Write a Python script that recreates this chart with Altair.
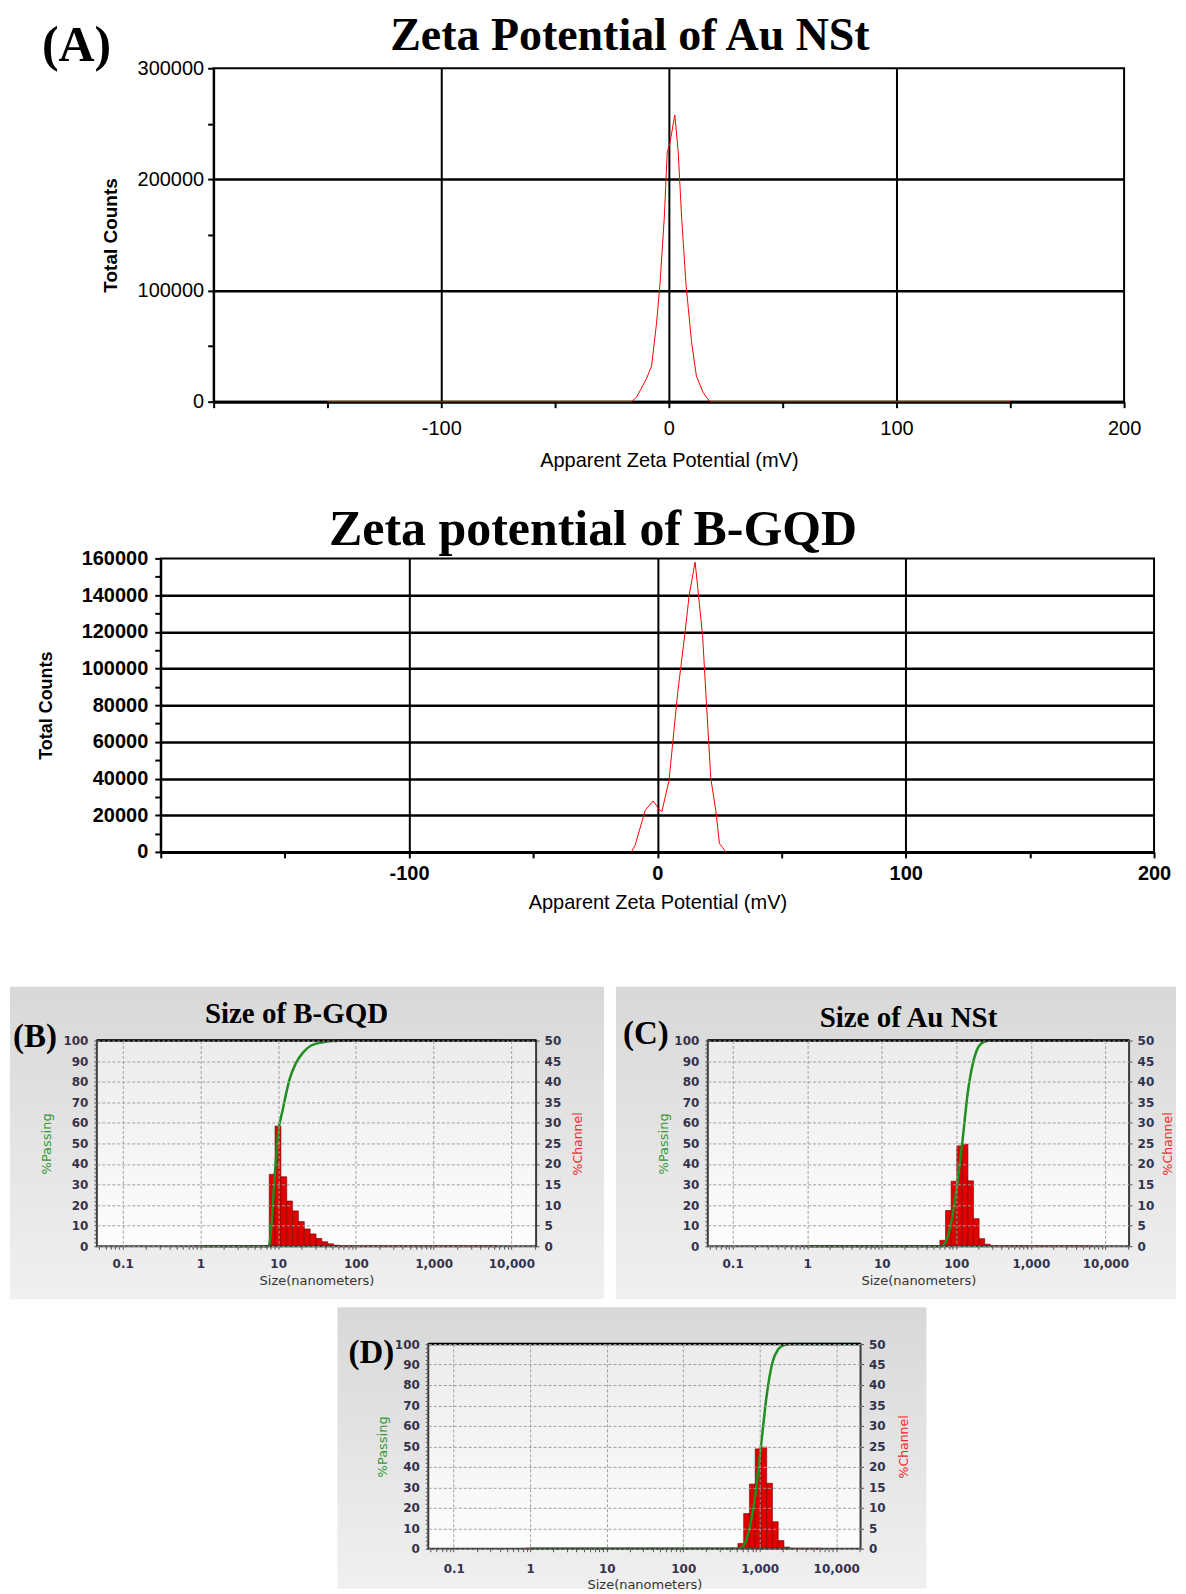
import altair as alt
import pandas as pd

# ---------------- data ----------------
# (A) Zeta potential of Au NSt
au_mv = [-150, -16.4, -14.2, -10.0, -7.6, -5.4, -3.9, -2.0, -0.7, 0.4, 2.6, 4.1, 5.6, 7.5, 10.0, 12.1, 15.1, 18.0, 150]
au_counts = [0, 0, 4000, 20000, 32000, 71000, 106000, 166000, 225000, 232000, 258000, 225000, 166000, 106000, 53000, 23000, 8000, 0, 0]

# Zeta potential of B-GQD
bg_mv = [-10.5, -9.0, -4.9, -1.7, 0.5, 1.8, 4.7, 8.1, 11.2, 12.8, 15.2, 18.2, 19.8, 21.5, 23.5, 25.0, 26.2, 27.5]
bg_counts = [0, 3500, 22700, 27800, 23500, 22000, 39000, 85900, 120300, 140000, 158000, 118000, 80000, 40200, 22700, 4600, 2500, 0]

zeta_ticks = [-200, -150, -100, -50, 0, 50, 100, 150, 200]

# (B) Size of B-GQD
b_lo = [7.67, 9.12, 10.85, 12.9, 15.3, 18.2, 21.7, 25.8, 30.7, 36.5, 43.4, 51.6]
b_hi = [9.12, 10.85, 12.9, 15.3, 18.2, 21.7, 25.8, 30.7, 36.5, 43.4, 51.6, 61.4]
b_channel = [17.5, 29.2, 16.9, 11.0, 8.6, 6.0, 4.2, 3.0, 1.9, 1.1, 0.6, 0.25]
b_pass_size = [1, 7.5, 7.8, 8.24, 9.09, 10.0, 11.4, 14.1, 16.8, 21.1, 26.6, 37.6, 53.2, 67.0, 6730]
b_pass_pct = [0, 0, 2, 11.6, 35.8, 55, 66, 81.5, 88.8, 94.4, 97.6, 99.2, 99.8, 100, 100]
b_zero_size = [0.84, 6730]
b_zero_ch = [0, 0]

# (C) Size of Au NSt
c_lo = [60.3, 71.7, 85.3, 101.4, 120.6, 143.4, 170.5, 202.8, 241.0]
c_hi = [71.7, 85.3, 101.4, 120.6, 143.4, 170.5, 202.8, 241.0, 287.0]
c_channel = [1.45, 8.7, 15.8, 24.4, 24.8, 15.9, 6.7, 1.85, 0.5]
c_pass_size = [1, 62, 72, 85, 101, 121, 143, 170, 203, 241, 290, 6500]
c_pass_pct = [0, 0, 2, 11, 28, 51, 75, 90, 97.5, 99.5, 100, 100]
c_zero_size = [0.9, 6500]
c_zero_ch = [0, 0]

# (D)
d_lo = [519, 617, 734, 873, 1038, 1234, 1467, 1745, 2075]
d_hi = [617, 734, 873, 1038, 1234, 1467, 1745, 2075, 2467]
d_channel = [1.3, 8.6, 15.8, 24.4, 24.8, 16.0, 6.6, 2.0, 0.4]
d_pass_size = [1, 530, 617, 734, 873, 1038, 1234, 1467, 1745, 2075, 2467, 20800]
d_pass_pct = [0, 0, 1.5, 10, 26, 50, 75, 91, 97.5, 99.5, 100, 100]
d_zero_size = [0.85, 6400]
d_zero_ch = [0, 0]

size_decades = [0.1, 1, 10, 100, 1000, 10000]
size_ticks = [0.05, 0.06, 0.07, 0.08, 0.09,
              0.1, 0.2, 0.3, 0.4, 0.5, 0.6, 0.7, 0.8, 0.9,
              1, 2, 3, 4, 5, 6, 7, 8, 9,
              10, 20, 30, 40, 50, 60, 70, 80, 90,
              100, 200, 300, 400, 500, 600, 700, 800, 900,
              1000, 2000, 3000, 4000, 5000, 6000, 7000, 8000, 9000,
              10000, 20000]
pass_ticks = list(range(0, 101, 2))
channel_ticks = list(range(0, 51, 5))

# ---------------- styling helpers ----------------
SANS = "Liberation Sans"
SERIF = "Liberation Serif"
UI = "DejaVu Sans"
one = pd.DataFrame({"k": [0]})


def rect(x1, x2, y1, y2, fill):
    return alt.Chart(one).mark_rect(fill=fill, strokeWidth=0).encode(
        x=alt.value(x1), x2=alt.value(x2), y=alt.value(y1), y2=alt.value(y2))


def frame(w, h, color, sw):
    return alt.Chart(one).mark_rect(fillOpacity=0, stroke=color, strokeWidth=sw).encode(
        x=alt.value(0), x2=alt.value(w), y=alt.value(0), y2=alt.value(h))


def text(t, x, y, size, font=SERIF, weight="bold", align="left", color="black"):
    return alt.Chart(one).mark_text(
        text=t, font=font, fontSize=size, fontWeight=weight, align=align,
        baseline="alphabetic", color=color).encode(x=alt.value(x), y=alt.value(y))


def grad(c1, c2):
    return {"gradient": "linear", "x1": 0, "x2": 0, "y1": 0, "y2": 1,
            "stops": [{"offset": 0, "color": c1}, {"offset": 1, "color": c2}]}


def spacer(w):
    return rect(0, w, 0, 1, "white").properties(
        width=w, height=1, view=alt.ViewBackground(strokeWidth=0))


def zeta_axes(w, h, label_weight, xlab_pad, xtitle_y, ylab_pad, y_vals, y_lab_step, y_max,
              ytitle_size, ytitle_x):
    x_axis = alt.Axis(
        values=zeta_ticks,
        labelExpr="(datum.value % 100 === 0 && datum.value > -200) ? '' + datum.value : ''",
        labelFont=SANS, labelFontSize=20, labelFontWeight=label_weight, labelColor="black",
        labelBaseline="middle", labelPadding=xlab_pad, labelFlush=False, labelOverlap=False,
        tickSize=6, tickWidth=2, tickColor="black", domainColor="black", domainWidth=3,
        grid=True, gridColor="black", gridWidth=2,
        gridOpacity={"condition": {"test": "datum.value % 100 === 0 && abs(datum.value) < 200", "value": 1}, "value": 0},
        title="Apparent Zeta Potential (mV)", titleFont=SANS, titleFontSize=20,
        titleFontWeight="normal", titleColor="black", titleBaseline="middle", titleY=xtitle_y)
    y_axis = alt.Axis(
        values=y_vals,
        labelExpr=f"datum.value % {y_lab_step} === 0 ? '' + datum.value : ''",
        labelFont=SANS, labelFontSize=20, labelFontWeight=label_weight, labelColor="black",
        labelPadding=ylab_pad, labelOverlap=False, labelFlush=False,
        tickSize=6, tickWidth=2, tickColor="black", domainColor="black", domainWidth=2,
        grid=True, gridColor="black", gridWidth=2.5,
        gridOpacity={"condition": {"test": f"datum.value % {y_lab_step} === 0 && datum.value > 0 && datum.value < {y_max}", "value": 1}, "value": 0},
        title="Total Counts", titleFont=SANS, titleFontSize=ytitle_size, titleFontWeight="bold",
        titleColor="black", titleAngle=270, titleAlign="center", titleBaseline="middle",
        titleX=ytitle_x, titleY=h / 2)
    return x_axis, y_axis


# ---------------- (A) zeta of Au NSt ----------------
wA, hA = 912, 334
xA_axis, yA_axis = zeta_axes(wA, hA, "normal", 21, 59, 4,
                             [0, 50000, 100000, 150000, 200000, 250000, 300000],
                             100000, 300000, 19, -103)
lineA = alt.Chart(pd.DataFrame({"mv": au_mv, "counts": au_counts})).mark_line(
    color="#ff0000", strokeWidth=1).encode(
    x=alt.X("mv:Q", scale=alt.Scale(domain=[-200, 200], nice=False, zero=False), axis=xA_axis),
    y=alt.Y("counts:Q", scale=alt.Scale(domain=[0, 300000], nice=False), axis=yA_axis))
panelA = alt.layer(
    rect(-204, -203, -58, -57, "white"),
    rect(964, 965, 408, 409, "white"),
    lineA,
    text("Zeta Potential of Au NSt", 417, -18, 46, align="center"),
    text("(A)", -172, -7, 50),
).properties(width=wA, height=hA, view=alt.ViewBackground(stroke="black", strokeWidth=2))

# ---------------- zeta of B-GQD ----------------
wZ, hZ = 995, 294
xZ_axis, yZ_axis = zeta_axes(wZ, hZ, "bold", 16, 51, 7,
                             list(range(0, 160001, 10000)), 20000, 160000, 18, -114)
lineZ = alt.Chart(pd.DataFrame({"mv": bg_mv, "counts": bg_counts})).mark_line(
    color="#ff0000", strokeWidth=1).encode(
    x=alt.X("mv:Q", scale=alt.Scale(domain=[-200, 200], nice=False, zero=False), axis=xZ_axis),
    y=alt.Y("counts:Q", scale=alt.Scale(domain=[0, 160000], nice=False), axis=yZ_axis))
panelZ = alt.layer(
    rect(-151, -150, -80, -79, "white"),
    rect(1017, 1018, 427, 428, "white"),
    lineZ,
    text("Zeta potential of B-GQD", 433, -13, 50, align="center"),
).properties(width=wZ, height=hZ, view=alt.ViewBackground(stroke="black", strokeWidth=2))


# ---------------- size panels ----------------
def size_panel(lo, hi, ch, ps, pp, zs, zc, w, h, pass_x, chan_x, xlab_pad, xtitle_y, before, after):
    xscale = alt.Scale(type="log", domain=[0.0465, 20800], nice=False)
    dec = "indexof([0.1,1,10,100,1000,10000], datum.value) >= 0"
    x_axis = alt.Axis(
        values=size_ticks, labelExpr=dec + " ? format(datum.value, ',') : ''",
        labelFont=UI, labelFontSize=12, labelFontWeight="bold", labelColor="#33334d",
        labelBaseline="middle", labelPadding=xlab_pad, labelFlush=False, labelOverlap=False,
        tickSize=3, tickColor="#555555", domain=False,
        grid=True, gridColor="#a0a0a0", gridDash=[3, 2], gridWidth=1,
        gridOpacity={"condition": {"test": dec, "value": 1}, "value": 0},
        title="Size(nanometers)", titleFont=UI, titleFontSize=13, titleFontWeight="normal",
        titleColor="#333333", titleBaseline="middle", titleY=xtitle_y, zindex=1)
    left_axis = alt.Axis(
        orient="left", values=pass_ticks,
        labelExpr="datum.value % 10 === 0 ? '' + datum.value : ''",
        labelFont=UI, labelFontSize=12, labelFontWeight="bold", labelColor="#33334d",
        labelPadding=6, labelOverlap=False, labelFlush=False,
        tickSize=3, tickColor="#555555", domain=False,
        grid=True, gridColor="#a0a0a0", gridDash=[3, 2], gridWidth=1,
        gridOpacity={"condition": {"test": "datum.value % 10 === 0", "value": 1}, "value": 0},
        title="%Passing", titleFont=UI, titleFontSize=13, titleFontWeight="normal",
        titleColor="#2f9a2f", titleAngle=270, titleAlign="center", titleBaseline="middle",
        titleX=pass_x, titleY=h / 2, zindex=1)
    right_axis = alt.Axis(
        orient="right", values=channel_ticks,
        labelFont=UI, labelFontSize=12, labelFontWeight="bold", labelColor="#33334d",
        labelPadding=5, labelOverlap=False, labelFlush=False,
        tickSize=3, tickColor="#555555", domain=False, grid=False,
        title="%Channel", titleFont=UI, titleFontSize=12.5, titleFontWeight="normal",
        titleColor="#ee2a2a", titleAngle=270, titleAlign="center", titleBaseline="middle",
        titleX=chan_x, titleY=h / 2, zindex=1)
    chscale = alt.Scale(domain=[0, 50], nice=False)
    zero_line = alt.Chart(pd.DataFrame({"size": zs, "ch": zc})).mark_line(
        color="#e83838", strokeWidth=2).encode(
        x=alt.X("size:Q", scale=xscale, axis=x_axis),
        y=alt.Y("ch:Q", scale=chscale, axis=right_axis))
    bars = alt.Chart(pd.DataFrame({"size": lo, "hi": hi, "ch": ch})).mark_rect(
        fill="#e00000", stroke="#7a0000", strokeWidth=0.6).encode(
        x=alt.X("size:Q", scale=xscale, axis=x_axis), x2="hi:Q",
        y=alt.Y("ch:Q", scale=chscale, axis=right_axis), y2=alt.datum(0))
    green = alt.Chart(pd.DataFrame({"size": ps, "pp": pp})).mark_line(
        color="#1f8f1f", strokeWidth=2.5, interpolate="monotone").encode(
        x=alt.X("size:Q", scale=xscale, axis=x_axis),
        y=alt.Y("pp:Q", scale=alt.Scale(domain=[0, 100], nice=False), axis=left_axis))
    plot_bg = rect(0, w, 0, h, grad("#ececec", "#fdfdfd"))
    top_edge = alt.Chart(one).mark_rule(color="black", strokeWidth=2.5).encode(
        x=alt.value(0), x2=alt.value(w), y=alt.value(0))
    return alt.layer(
        *before, plot_bg, alt.layer(zero_line, bars), green,
        frame(w, h, "#3a3a3a", 2), top_edge, *after
    ).resolve_scale(y="independent").resolve_axis(y="independent").properties(
        width=w, height=h, view=alt.ViewBackground(strokeWidth=0))


box = grad("#d8d8d8", "#f0f0f0")
wB, hB = 440, 206
panelB = size_panel(
    b_lo, b_hi, b_channel, b_pass_size, b_pass_pct, b_zero_size, b_zero_ch, wB, hB, -50, 41, 14, 34,
    [rect(-88, 508, -54, 267, "white"), rect(-87, 508, -54, 259, box)],
    [text("Size of B-GQD", 200, -18, 29, align="center"), text("(B)", -84, 6, 33)])

wC, hC = 422, 206
panelC = size_panel(
    c_lo, c_hi, c_channel, c_pass_size, c_pass_pct, c_zero_size, c_zero_ch, wC, hC, -44, 38, 14, 34,
    [rect(-104, 469, -54, 259, "white"), rect(-92, 469, -54, 259, box)],
    [text("Size of Au NSt", 201, -14, 29, align="center"), text("(C)", -85, 3, 33)])

wD, hD = 433, 205
panelD = size_panel(
    d_lo, d_hi, d_channel, d_pass_size, d_pass_pct, d_zero_size, d_zero_ch, wD, hD, -46, 43, 17, 36,
    [rect(-91, 499, -37, 245, box)],
    [text("(D)", -80, 19, 33)])

chart = alt.vconcat(
    alt.hconcat(spacer(1), panelA, spacing=0),
    alt.hconcat(spacer(1), panelZ, spacing=0),
    alt.hconcat(spacer(1), panelB, panelC, spacing=0),
    alt.hconcat(spacer(330), panelD, spacing=0),
    spacing=0,
).properties(padding=0).configure_view(strokeWidth=0).configure(background="white")

chart.save("out.html", embed_options={"renderer": "svg", "actions": False})
